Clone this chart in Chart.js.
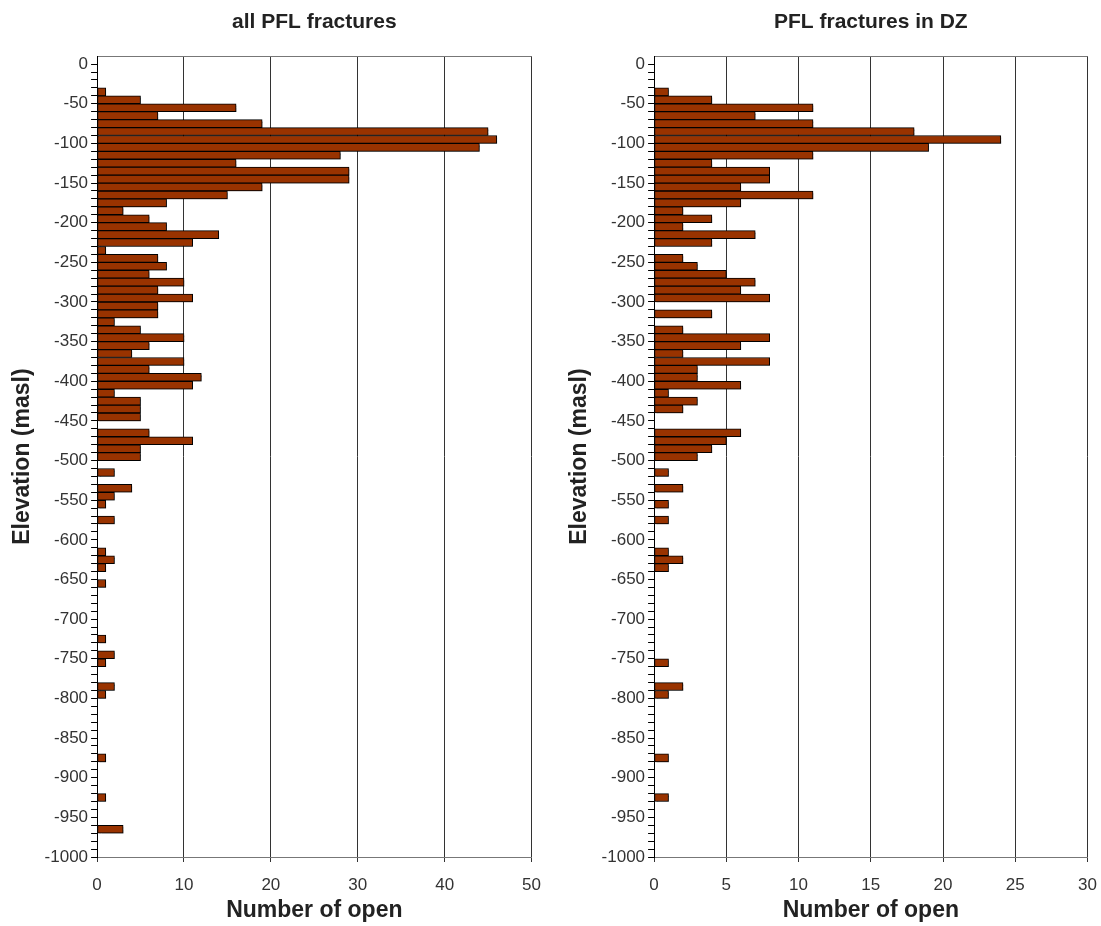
<!DOCTYPE html>
<html>
<head>
<meta charset="utf-8">
<script src="https://cdn.jsdelivr.net/npm/chart.js@4"></script>
<style>
  html, body { margin: 0; padding: 0; background: #fff; overflow: hidden; }
  .panel { position: absolute; top: 0; height: 926px; }
  #left { left: 0; width: 554px; }
  #right { left: 557px; width: 553px; }
</style>
</head>
<body>
<div class="panel" id="left"><canvas id="chartAll" width="554" height="926"></canvas></div>
<div class="panel" id="right"><canvas id="chartDZ" width="553" height="926"></canvas></div>
<script>
// ===== DATA =====
// 10 m elevation bins from 0 down to -1000 masl, one count per bin (top bin first)
const BIN_SIZE = 10;
const BIN_COUNT = 100;

// all PFL fractures
const countsAll = [
  0, 0, 0, 1, 5, 16, 7, 19, 45, 46,
  44, 28, 16, 29, 29, 19, 15, 8, 3, 6,
  8, 14, 11, 1, 7, 8, 6, 10, 7, 11,
  7, 7, 2, 5, 10, 6, 4, 10, 6, 12,
  11, 2, 5, 5, 5, 0, 6, 11, 5, 5,
  0, 2, 0, 4, 2, 1, 0, 2, 0, 0,
  0, 1, 2, 1, 0, 1, 0, 0, 0, 0,
  0, 0, 1, 0, 2, 1, 0, 0, 2, 1,
  0, 0, 0, 0, 0, 0, 0, 1, 0, 0,
  0, 0, 1, 0, 0, 0, 3, 0, 0, 0
];

// PFL fractures in DZ
const countsDZ = [
  0, 0, 0, 1, 4, 11, 7, 11, 18, 24,
  19, 11, 4, 8, 8, 6, 11, 6, 2, 4,
  2, 7, 4, 0, 2, 3, 5, 7, 6, 8,
  0, 4, 0, 2, 8, 6, 2, 8, 3, 3,
  6, 1, 3, 2, 0, 0, 6, 5, 4, 3,
  0, 1, 0, 2, 0, 1, 0, 1, 0, 0,
  0, 1, 2, 1, 0, 0, 0, 0, 0, 0,
  0, 0, 0, 0, 0, 1, 0, 0, 2, 1,
  0, 0, 0, 0, 0, 0, 0, 1, 0, 0,
  0, 0, 1, 0, 0, 0, 0, 0, 0, 0
];

// bin centres (masl)
const binCentres = Array.from({ length: BIN_COUNT }, (_, i) => -BIN_SIZE * i - BIN_SIZE / 2);

const ELEV_MIN = -1000;
const ELEV_MAX = 10;
const ELEV_LABEL_STEP = 50;

const FONT = 'Liberation Sans, Arial, Helvetica, sans-serif';
const BAR_COLOR = '#993300';

// soft grey drop shadow behind the bars
const barShadow = {
  id: 'barShadow',
  beforeDatasetsDraw(chart) {
    const c = chart.ctx;
    c.save();
    c.shadowColor = 'rgba(0,0,0,0.35)';
    c.shadowOffsetX = 2;
    c.shadowOffsetY = 2;
    c.shadowBlur = 1;
  },
  afterDatasetsDraw(chart) {
    chart.ctx.restore();
  }
};

function criarGrafico(id, titulo, counts, xMax, xStep) {
  const pontos = counts
    .map((n, i) => ({ x: n, y: binCentres[i] }))
    .filter(p => p.x > 0);

  return new Chart(document.getElementById(id), {
    type: 'bar',
    data: {
      datasets: [{
        data: pontos,
        backgroundColor: BAR_COLOR,
        borderColor: '#000',
        borderWidth: 1,
        borderSkipped: false,
        barPercentage: 1,
        categoryPercentage: 1
      }]
    },
    options: {
      indexAxis: 'y',
      responsive: false,
      animation: false,
      layout: { padding: { left: 5, right: 4, top: 0, bottom: 0 } },
      plugins: {
        legend: { display: false },
        tooltip: { enabled: false },
        title: {
          display: true,
          text: titulo,
          fullSize: false,
          color: '#222',
          font: { family: FONT, size: 21, weight: 'bold' },
          padding: { top: 10, bottom: 21 }
        }
      },
      scales: {
        x: {
          type: 'linear',
          min: 0,
          max: xMax,
          ticks: {
            stepSize: xStep,
            color: '#333',
            padding: 13,
            font: { family: FONT, size: 17 }
          },
          grid: {
            color: '#333',
            tickColor: '#333',
            tickLength: 5
          },
          border: { color: '#777', width: 1 },
          title: {
            display: true,
            text: 'Number of open',
            color: '#222',
            font: { family: FONT, size: 23, weight: 'bold' },
            padding: { top: -12, bottom: 2 }
          }
        },
        y: {
          type: 'linear',
          min: ELEV_MIN,
          max: ELEV_MAX,
          offset: false,
          ticks: {
            stepSize: BIN_SIZE,
            maxTicksLimit: 200,
            autoSkip: false,
            color: '#333',
            padding: 3,
            font: { family: FONT, size: 17 },
            callback: v => (v <= 0 && v % ELEV_LABEL_STEP === 0) ? v : ''
          },
          grid: {
            offset: false,
            tickLength: 6,
            // only the top edge of the frame is drawn across the plot
            color: c => c.tick && c.tick.value === ELEV_MAX ? '#777' : 'rgba(0,0,0,0)',
            tickColor: c => c.tick && c.tick.value === ELEV_MAX ? 'rgba(0,0,0,0)' : '#000'
          },
          border: { color: '#000', width: 1 },
          title: {
            display: true,
            text: 'Elevation (masl)',
            color: '#222',
            font: { family: FONT, size: 23, weight: 'bold' },
            padding: { top: 4, bottom: 5 }
          }
        }
      }
    },
    plugins: [barShadow]
  });
}

criarGrafico('chartAll', 'all PFL fractures', countsAll, 50, 10);
criarGrafico('chartDZ', 'PFL fractures in DZ', countsDZ, 30, 5);
</script>
</body>
</html>
